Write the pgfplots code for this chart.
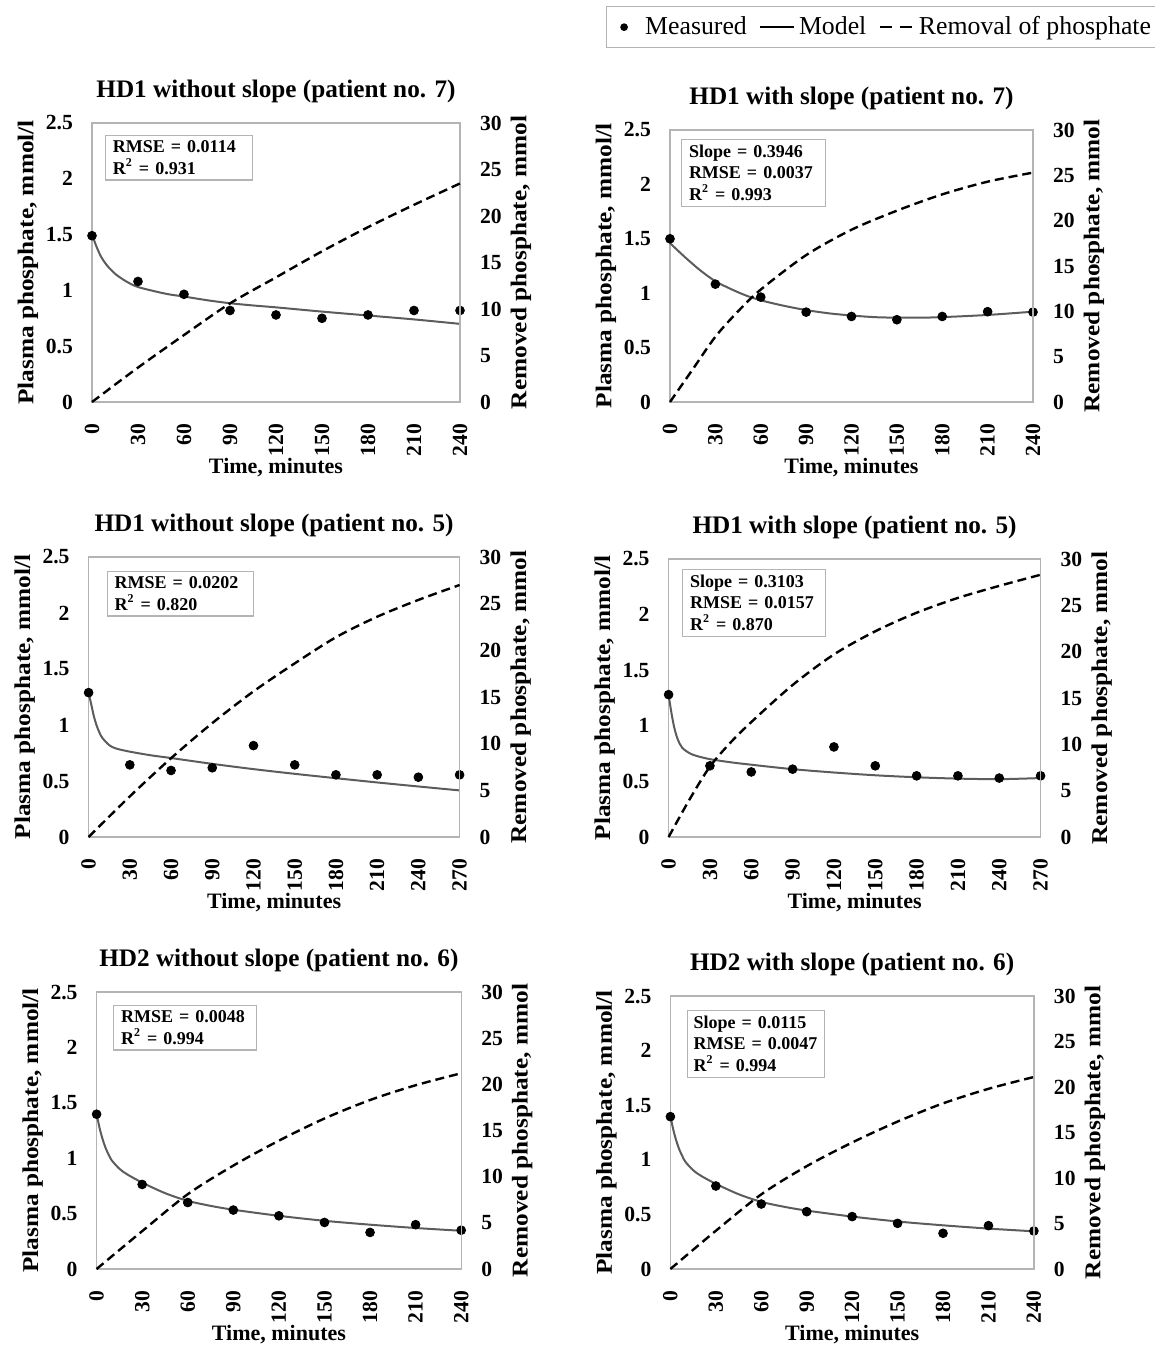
\documentclass[border=0pt]{standalone}
\usepackage{fontspec}
\setmainfont{Liberation Serif}
\usepackage{graphicx}
\usepackage{pgfplots}
\pgfplotsset{compat=1.18}

\definecolor{boxgray}{HTML}{B4B4B4}
\definecolor{modelgray}{HTML}{5C5C5C}

\pgfplotsset{
 base/.style={scale only axis, clip=false, major tick length=0pt,
   axis line style={boxgray, line width=0.6pt},
   tick label style={font=\fontsize{10.8}{13}\selectfont\bfseries},
   /pgf/number format/assume math mode=true},
 left/.style={base, ymin=0, ymax=2.5, ytick={0,0.5,1,1.5,2,2.5}, xmin=0,
   xticklabel style={rotate=90, anchor=east}, xticklabel shift=7.5pt, yticklabel shift=6pt,
   xlabel={Time, minutes}, ylabel={\scalebox{1.12}[1]{Plasma phosphate, mmol/l}},
   every axis x label/.style={at={(axis description cs:0.5,0)}, yshift=-33pt, anchor=center,
      font=\fontsize{11}{13}\selectfont\bfseries},
   every axis y label/.style={at={(axis description cs:0,0.5)}, xshift=-32pt, rotate=90, anchor=center,
      font=\fontsize{11.3}{13}\selectfont\bfseries},
   every axis title/.style={at={(axis description cs:0.5,1)}, yshift=16pt, anchor=center,
      font=\fontsize{12.6}{14}\selectfont\bfseries}},
 right/.style={base, ymin=0, ymax=30, ytick={0,5,...,30}, axis y line*=right, axis x line=none, xmin=0,
   yticklabel shift=6.5pt, ylabel={\scalebox{1.12}[1]{Removed phosphate, mmol}},
   every axis y label/.style={at={(axis description cs:1,0.5)}, xshift=30.5pt, rotate=90, anchor=center,
      font=\fontsize{11.3}{13}\selectfont\bfseries}},
 meas/.style={only marks, mark=*, mark size=2.2pt, black},
 model/.style={no marks, modelgray, line width=1pt, smooth},
 remov/.style={no marks, black, line width=1.2pt, dash pattern=on 4.5pt off 2.5pt, smooth},
}

\newcommand{\statbox}[5]{\node[anchor=north west, draw=boxgray, line width=0.6pt, fill=white, align=left,
  font=\fontsize{9}{10.8}\selectfont\bfseries, inner xsep=#4, inner ysep=2.65pt, text width=#3]
  at ([xshift=#1, yshift=#2]axis description cs:0,1) {#5};}

\begin{document}
\begin{tikzpicture}
\useasboundingbox (0,0) rectangle (577.5pt,673pt);

% ---------------- Panel 1 ----------------
\begin{axis}[left, at={(46pt,472pt)}, width=184pt, height=139.5pt, xmax=240, xtick={0,30,...,240},
  title={HD1 without slope (patient no. 7)}]
\addplot[model] coordinates {(0,1.50)(3,1.39)(6,1.30)(10,1.22)(15,1.15)(20,1.10)(25,1.06)(30,1.03)(40,0.995)(50,0.965)(60,0.945)(75,0.912)(90,0.885)(105,0.865)(120,0.848)(150,0.81)(180,0.775)(210,0.74)(240,0.70)};
\addplot[meas] coordinates {(0,1.49)(30,1.08)(60,0.965)(90,0.82)(120,0.78)(150,0.75)(180,0.78)(210,0.82)(240,0.82)};
\statbox{6.5pt}{-6pt}{66pt}{3.7pt}{RMSE = 0.0114\\R\textsuperscript{2} = 0.931}
\end{axis}
\begin{axis}[right, at={(46pt,472pt)}, width=184pt, height=139.5pt, xmax=240]
\addplot[remov] coordinates {(0,0)(30,3.7)(60,7.2)(90,10.6)(120,13.4)(150,16.2)(180,18.8)(210,21.2)(240,23.5)};
\end{axis}

% ---------------- Panel 2 ----------------
\begin{axis}[left, at={(335pt,472pt)}, width=181.5pt, height=136pt, xmax=240, xtick={0,30,...,240},
  title={HD1 with slope (patient no. 7)},
  legend columns=3, legend cell align=left,
  legend style={at={(axis description cs:-0.176,1.456)}, anchor=north west, draw=boxgray, line width=0.6pt,
    font=\fontsize{12.9}{15}\selectfont, inner ysep=3pt, /tikz/every even column/.append style={column sep=4pt}}]
\addlegendimage{legend image code/.code={\path[draw=none, fill=none] (0cm,0cm) -- (0.5cm,0cm); \fill[black] (0.2cm,0cm) circle (1.6pt);}}
\addlegendimage{black, line width=1pt}
\addlegendimage{black, line width=1.2pt, dash pattern=on 6pt off 4pt}
\addplot[model, forget plot] coordinates {(0,1.46)(10,1.33)(20,1.21)(30,1.11)(40,1.04)(50,0.98)(60,0.935)(75,0.885)(90,0.845)(105,0.815)(120,0.795)(135,0.78)(150,0.775)(165,0.775)(180,0.78)(210,0.80)(240,0.83)};
\addplot[meas, forget plot] coordinates {(0,1.50)(30,1.083)(60,0.964)(90,0.826)(120,0.786)(150,0.756)(180,0.786)(210,0.83)(240,0.826)};
\legend{Measured, Model, Removal of phosphate}
\statbox{5.5pt}{-4.5pt}{64.6pt}{3.7pt}{Slope = 0.3946\\RMSE = 0.0037\\R\textsuperscript{2} = 0.993}
\end{axis}
\begin{axis}[right, at={(335pt,472pt)}, width=181.5pt, height=136pt, xmax=240]
\addplot[remov] coordinates {(0,0)(15,3.6)(30,7.2)(45,10.0)(60,12.4)(90,16.2)(120,19.0)(150,21.1)(180,22.9)(210,24.3)(240,25.3)};
\end{axis}

% ---------------- Panel 3 ----------------
\begin{axis}[left, at={(44.3pt,254.5pt)}, width=185.5pt, height=140pt, xmax=270, xtick={0,30,...,270},
  title={HD1 without slope (patient no. 5)}]
\addplot[model] coordinates {(0,1.29)(2,1.18)(4,1.07)(6,0.99)(8,0.93)(10,0.885)(15,0.82)(20,0.79)(30,0.762)(45,0.73)(60,0.705)(90,0.653)(120,0.606)(150,0.564)(180,0.525)(210,0.487)(240,0.451)(270,0.416)};
\addplot[meas] coordinates {(0,1.289)(30,0.644)(60,0.594)(90,0.618)(120,0.816)(150,0.644)(180,0.555)(210,0.555)(240,0.534)(270,0.555)};
\statbox{9pt}{-7pt}{65.6pt}{3.7pt}{RMSE = 0.0202\\R\textsuperscript{2} = 0.820}
\end{axis}
\begin{axis}[right, at={(44.3pt,254.5pt)}, width=185.5pt, height=140pt, xmax=270]
\addplot[remov] coordinates {(0,0)(30,4.35)(60,8.44)(90,12.2)(120,15.6)(150,18.6)(180,21.4)(210,23.6)(240,25.4)(270,27.0)};
\end{axis}

% ---------------- Panel 4 ----------------
\begin{axis}[left, at={(334.3pt,254.5pt)}, width=186pt, height=139pt, xmax=270, xtick={0,30,...,270},
  title={HD1 with slope (patient no. 5)}]
\addplot[model] coordinates {(0,1.28)(2,1.12)(4,0.99)(6,0.90)(8,0.84)(10,0.80)(15,0.755)(20,0.73)(30,0.70)(45,0.672)(60,0.65)(90,0.61)(120,0.58)(150,0.555)(180,0.537)(210,0.525)(240,0.52)(270,0.53)};
\addplot[meas] coordinates {(0,1.28)(30,0.64)(60,0.585)(90,0.61)(120,0.81)(150,0.64)(180,0.55)(210,0.55)(240,0.53)(270,0.55)};
\statbox{6.75pt}{-5pt}{64.1pt}{3.7pt}{Slope = 0.3103\\RMSE = 0.0157\\R\textsuperscript{2} = 0.870}
\end{axis}
\begin{axis}[right, at={(334.3pt,254.5pt)}, width=186pt, height=139pt, xmax=270]
\addplot[remov] coordinates {(0,0)(15,4.0)(30,7.6)(45,10.2)(60,12.4)(90,16.4)(120,19.7)(150,22.2)(180,24.2)(210,25.8)(240,27.1)(270,28.3)};
\end{axis}

% ---------------- Panel 5 ----------------
\begin{axis}[left, at={(48.3pt,38.5pt)}, width=182.3pt, height=138.5pt, xmax=240, xtick={0,30,...,240},
  title={HD2 without slope (patient no. 6)}]
\addplot[model] coordinates {(0,1.40)(2,1.27)(4,1.17)(6,1.09)(8,1.03)(10,0.98)(15,0.905)(20,0.855)(30,0.78)(45,0.685)(60,0.615)(75,0.57)(90,0.535)(120,0.48)(150,0.435)(180,0.40)(210,0.37)(240,0.345)};
\addplot[meas] coordinates {(0,1.397)(30,0.763)(60,0.60)(90,0.532)(120,0.48)(150,0.42)(180,0.33)(210,0.40)(240,0.35)};
\statbox{8.3pt}{-6.5pt}{64.1pt}{3.7pt}{RMSE = 0.0048\\R\textsuperscript{2} = 0.994}
\end{axis}
\begin{axis}[right, at={(48.3pt,38.5pt)}, width=182.3pt, height=138.5pt, xmax=240]
\addplot[remov] coordinates {(0,0)(30,4.1)(60,8.1)(90,11.2)(120,13.9)(150,16.3)(180,18.3)(210,19.9)(240,21.2)};
\end{axis}

% ---------------- Panel 6 ----------------
\begin{axis}[left, at={(335.2pt,38.5pt)}, width=181.75pt, height=136.5pt, xmax=240, xtick={0,30,...,240},
  title={HD2 with slope (patient no. 6)}]
\addplot[model] coordinates {(0,1.40)(2,1.27)(4,1.17)(6,1.09)(8,1.03)(10,0.98)(15,0.905)(20,0.855)(30,0.78)(45,0.685)(60,0.615)(75,0.57)(90,0.535)(120,0.48)(150,0.435)(180,0.40)(210,0.37)(240,0.345)};
\addplot[meas] coordinates {(0,1.395)(30,0.76)(60,0.595)(90,0.525)(120,0.48)(150,0.418)(180,0.327)(210,0.397)(240,0.348)};
\statbox{8.3pt}{-7pt}{62.5pt}{3pt}{Slope = 0.0115\\RMSE = 0.0047\\R\textsuperscript{2} = 0.994}
\end{axis}
\begin{axis}[right, at={(335.2pt,38.5pt)}, width=181.75pt, height=136.5pt, xmax=240]
\addplot[remov] coordinates {(0,0)(30,4.2)(60,8.2)(90,11.3)(120,13.9)(150,16.2)(180,18.2)(210,19.8)(240,21.1)};
\end{axis}
\end{tikzpicture}
\end{document}
